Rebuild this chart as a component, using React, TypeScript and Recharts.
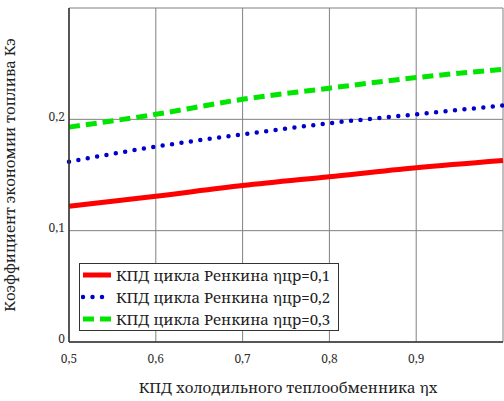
import { LineChart, Line, XAxis, YAxis, CartesianGrid } from 'recharts';

// КПД холодильного теплообменника ηх
const etaX = [0.5, 0.6, 0.7, 0.8, 0.9, 1.0];
// Кэ for ηцр = 0,1 / 0,2 / 0,3
const kRed = [0.122, 0.131, 0.1405, 0.1485, 0.1565, 0.163];
const kBlue = [0.162, 0.1755, 0.1865, 0.1965, 0.2045, 0.2125];
const kGreen = [0.193, 0.2045, 0.218, 0.228, 0.2375, 0.245];

const xTicks = [0.5, 0.6, 0.7, 0.8, 0.9, 1.0];
const yTicks = [0, 0.1, 0.2, 0.3];

const seriesNames = [
  'КПД цикла Ренкина ηцр=0,1',
  'КПД цикла Ренкина ηцр=0,2',
  'КПД цикла Ренкина ηцр=0,3',
];

const data = etaX.map((x, i) => ({ x, r: kRed[i], b: kBlue[i], g: kGreen[i] }));

// Liberation Serif has no cyrillic here, so everything uses Noto Serif
const textFont = 'Noto Serif';

const fmt = (v: number, skip: number) =>
  Math.abs(v - skip) < 1e-9 ? '' : String(Math.round(v * 10) / 10).replace('.', ',');

function LegendBox() {
  const rows = [
    { name: seriesNames[0], color: '#ff0000', dash: undefined, w: 5, cap: 'butt' },
    { name: seriesNames[1], color: '#0000cc', dash: '0 9.5', w: 4.5, cap: 'round' },
    { name: seriesNames[2], color: '#00e600', dash: '11 6', w: 5, cap: 'butt' },
  ];
  return (
    <div
      style={{
        position: 'absolute',
        left: 79,
        top: 263,
        border: '1.5px solid #333',
        background: '#fff',
        width: 258,
        height: 66,
        fontFamily: textFont,
        fontSize: 15,
        lineHeight: '22px',
        color: '#222',
      }}
    >
      {rows.map((r, i) => (
        <div key={i} style={{ display: 'flex', alignItems: 'center', height: 22 }}>
          <svg width={34} height={10} style={{ marginLeft: 1 }}>
            <line x1={2} y1={5} x2={30} y2={5} stroke={r.color} strokeWidth={r.w}
              strokeDasharray={r.dash} strokeLinecap={r.cap as any} />
          </svg>
          <span style={{ marginLeft: 1, whiteSpace: 'nowrap' }}>{r.name}</span>
        </div>
      ))}
    </div>
  );
}

export default function App() {
  return (
    <div style={{ position: 'absolute', left: 0, top: 0, width: 504, height: 401, background: '#fff' }}>
      <LineChart width={504} height={401} data={data} margin={{ top: 8, right: 1, left: 0, bottom: 0 }}>
        <CartesianGrid stroke="#808080" strokeWidth={1} />
        <XAxis
          dataKey="x"
          type="number"
          domain={[0.5, 1]}
          ticks={xTicks}
          tickFormatter={(v) => fmt(v, 1)}
          height={59}
          axisLine={{ stroke: '#333', strokeWidth: 1.5 }}
          tickLine={false}
          tick={{ fontFamily: textFont, fontSize: 12, fill: '#333', dy: 4 }}
          label={{
            value: 'КПД холодильного теплообменника  ηх',
            position: 'insideBottom',
            offset: 8,
            dx: 2,
            style: { fontFamily: textFont, fontSize: 15, fill: '#222', whiteSpace: 'pre' },
          }}
        />
        <YAxis
          type="number"
          domain={[0, 0.3]}
          ticks={yTicks}
          tickFormatter={(v) => fmt(v, 0.3)}
          width={69}
          axisLine={{ stroke: '#333', strokeWidth: 1.5 }}
          tickLine={false}
          tick={{ fontFamily: textFont, fontSize: 12, fill: '#333', dx: 4, dy: -3 }}
          label={{
            value: 'Коэффициент экономии топлива Кэ',
            angle: -90,
            position: 'insideLeft',
            offset: 10,
            style: { fontFamily: textFont, fontSize: 15, fill: '#222', textAnchor: 'middle' },
          }}
        />
        <Line type="monotone" dataKey="r" name={seriesNames[0]} stroke="#ff0000" strokeWidth={5}
          dot={false} isAnimationActive={false} />
        <Line type="monotone" dataKey="b" name={seriesNames[1]} stroke="#0000cc" strokeWidth={4.5}
          strokeDasharray="0 9.5" strokeLinecap="round" dot={false} isAnimationActive={false} />
        <Line type="monotone" dataKey="g" name={seriesNames[2]} stroke="#00e600" strokeWidth={5}
          strokeDasharray="11 6" dot={false} isAnimationActive={false} />
      </LineChart>
      <LegendBox />
    </div>
  );
}
